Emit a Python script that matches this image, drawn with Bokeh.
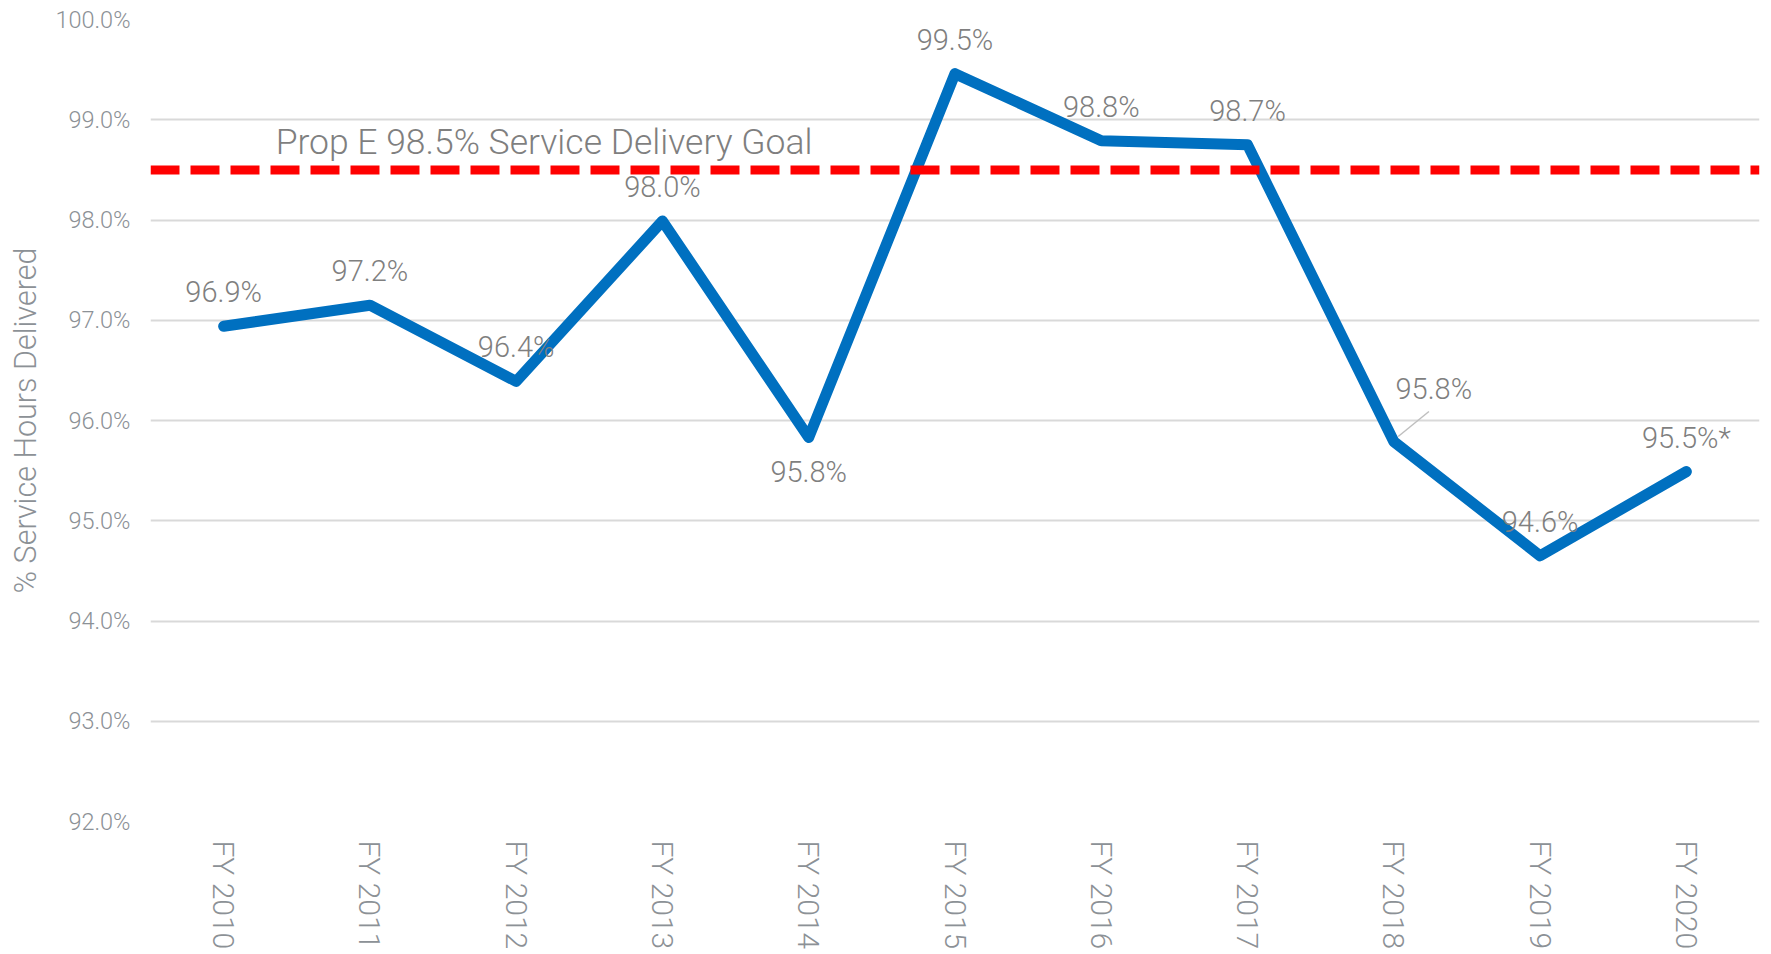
import math
from bokeh.plotting import figure
from bokeh.models import (ColumnDataSource, FactorRange, Range1d, FixedTicker,
                          PrintfTickFormatter, Span)
from bokeh.transform import dodge
from bokeh.core.properties import value
from bokeh.embed import file_html
from bokeh.resources import INLINE

# ---------------- data ----------------
years = ["FY 2010", "FY 2011", "FY 2012", "FY 2013", "FY 2014", "FY 2015",
         "FY 2016", "FY 2017", "FY 2018", "FY 2019", "FY 2020"]
delivered = [96.94, 97.15, 96.39, 97.99, 95.83, 99.46, 98.79, 98.75, 95.79, 94.65, 95.49]
point_labels = ["96.9%", "97.2%", "96.4%", "98.0%", "95.8%", "99.5%",
                "98.8%", "98.7%", "95.8%", "94.6%", "95.5%*"]
goal = 98.5
goal_text = "Prop E 98.5% Service Delivery Goal"
y_ticks = [92, 93, 94, 95, 96, 97, 98, 99, 100]
y_title = "% Service Hours Delivered"

# ---------------- style ----------------
FONT = "Roboto Light"
LINE_BLUE = "#0070C0"
GOAL_RED = "#FF0000"
LABEL_GREY = "#7F7F7F"
AXIS_GREY = "#8C9196"
GRID_GREY = "#D9D9D9"

# label placement (screen px) : default above the point, a few exceptions
label_dx = {y: 0 for y in years}
label_dy = {y: -34 for y in years}
label_dy["FY 2014"] = 34
label_dx["FY 2018"] = 40
label_dy["FY 2018"] = -53

src = ColumnDataSource(dict(
    x=years, y=delivered, label=point_labels,
    dx=[label_dx[y] for y in years], dy=[label_dy[y] for y in years],
))

p = figure(x_range=FactorRange(*years, range_padding=0, factor_padding=0),
           y_range=Range1d(92, 100),
           width=1768, height=952,
           output_backend="svg", toolbar_location=None,
           min_border_left=150, min_border_right=9,
           min_border_top=19, min_border_bottom=130)
p.outline_line_color = None
p.background_fill_color = "white"
p.border_fill_color = "white"

# main series
p.line(x="x", y="y", source=src, line_color=LINE_BLUE, line_width=11,
       line_join="round", line_cap="round")

# data labels
p.text(x="x", y="y", text="label", x_offset="dx", y_offset="dy", source=src,
       text_font=value(FONT), text_font_size=value("29px"), text_color=LABEL_GREY,
       text_align="center", text_baseline="middle")

# leader line for the FY 2018 label
i18 = years.index("FY 2018")
leader = ColumnDataSource(dict(x=[years[i18]], y0=[delivered[i18] + 0.05],
                               y1=[delivered[i18] + 0.30]))
p.segment(x0=dodge("x", 0.03, range=p.x_range), y0="y0",
          x1=dodge("x", 0.24, range=p.x_range), y1="y1",
          source=leader, line_color="#BFBFBF", line_width=1.5)

# goal line and its label
p.add_layout(Span(location=goal, dimension="width", line_color=GOAL_RED,
                  line_width=9, line_dash="29 11"))
goal_src = ColumnDataSource(dict(x=[years[0]], y=[goal], t=[goal_text]))
p.text(x="x", y="y", text="t", source=goal_src, x_offset=52, y_offset=-28,
       text_font=value(FONT), text_font_size=value("35.5px"), text_color=LABEL_GREY,
       text_align="left", text_baseline="alphabetic")

# axes / grid
ticker = FixedTicker(ticks=y_ticks)
p.yaxis.ticker = ticker
p.ygrid.ticker = ticker
p.yaxis.formatter = PrintfTickFormatter(format="%.1f%%")
p.ygrid.grid_line_color = GRID_GREY
p.ygrid.grid_line_width = 2
p.xgrid.grid_line_color = None

for ax in (p.xaxis, p.yaxis):
    ax.axis_line_color = None
    ax.major_tick_line_color = None
    ax.minor_tick_line_color = None
    ax.major_tick_out = 0
    ax.major_tick_in = 0
    ax.major_label_text_font = FONT
    ax.major_label_text_color = AXIS_GREY

p.yaxis.major_label_text_font_size = "23.5px"
p.yaxis.major_label_standoff = 20
p.yaxis.axis_label = y_title
p.yaxis.axis_label_text_font = FONT
p.yaxis.axis_label_text_font_size = "30.5px"
p.yaxis.axis_label_text_font_style = "normal"
p.yaxis.axis_label_text_color = AXIS_GREY
p.yaxis.axis_label_standoff = 9

p.xaxis.major_label_orientation = -math.pi / 2
p.xaxis.major_label_text_font_size = "30px"
p.xaxis.major_label_standoff = 19

open("out.html", "w").write(file_html(p, INLINE))
